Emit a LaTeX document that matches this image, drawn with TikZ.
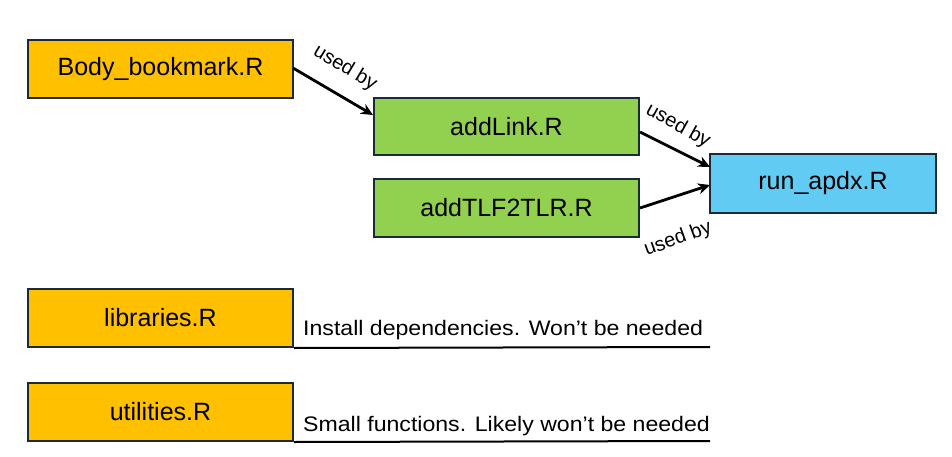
\documentclass[tikz,border=0pt]{standalone}
\usepackage{fontspec}
\setmainfont{Liberation Sans}
\usetikzlibrary{arrows.meta}
\definecolor{borange}{HTML}{FFC000}
\definecolor{bgreen}{HTML}{92D050}
\definecolor{bblue}{HTML}{61CBF3}
\definecolor{bedge}{HTML}{1B2A38}
\tikzset{
  fbox/.style={draw=bedge, line width=2pt, rectangle, minimum height=58pt, inner sep=0pt,
    font=\fontsize{25}{29}\selectfont, text=black},
  usedarrow/.style={draw=black, line width=2.8pt, -{Stealth[length=12pt,width=11pt]}},
  usedlabel/.style={font=\fontsize{20}{23}\selectfont, inner sep=0pt},
  descr/.style={font=\fontsize{21}{25}\selectfont, anchor=base west, inner sep=0pt},
  baseline/.style={draw=black, line width=2pt}
}
\begin{document}
\begin{tikzpicture}[x=1pt,y=-1pt]
\useasboundingbox (0,0) rectangle (952,457);
\node[fbox, fill=borange, minimum width=265pt] (body) at (160.5,69) {Body\_bookmark.R};
\node[fbox, fill=bgreen, minimum width=265pt, minimum height=57pt] (link) at (506.5,126.5) {addLink.R};
\node[fbox, fill=bgreen, minimum width=265pt] (tlf) at (506.5,208) {addTLF2TLR.R};
\node[fbox, fill=bblue, minimum width=226pt, minimum height=59pt] (run) at (823,183.5) {run\_apdx.R};
\node[fbox, fill=borange, minimum width=265pt] (lib) at (160.5,318) {libraries.R};
\node[fbox, fill=borange, minimum width=265pt] (util) at (160.5,412) {utilities.R};

\coordinate (b1) at (293,68);
\coordinate (l1) at (373,115);
\coordinate (l2) at (640,132);
\coordinate (r1) at (710,167);
\coordinate (t2) at (640,208);
\coordinate (r2) at (710,185);
\draw[usedarrow] (b1) -- (l1);
\draw[usedarrow] (l2) -- (r1);
\draw[usedarrow] (t2) -- (r2);

\node[usedlabel, rotate=-31] (u1) at (345,68) {used by};
\node[usedlabel, rotate=-29] (u2) at (678,126) {used by};
\node[usedlabel, rotate=20] (u3) at (678,239) {used by};

\coordinate (le1) at (710,347);
\coordinate (le2) at (710,441);
\draw[baseline] (lib.south east) -- (le1);
\draw[baseline] (util.south east) -- (le2);
\node[descr] (d1) at (303,335) {\scalebox{1.1}[1]{Install dependencies. Won’t be needed}};
\node[descr] (d2) at (303,431) {\scalebox{1.1}[1]{Small functions. Likely won’t be needed}};
\end{tikzpicture}
\end{document}
